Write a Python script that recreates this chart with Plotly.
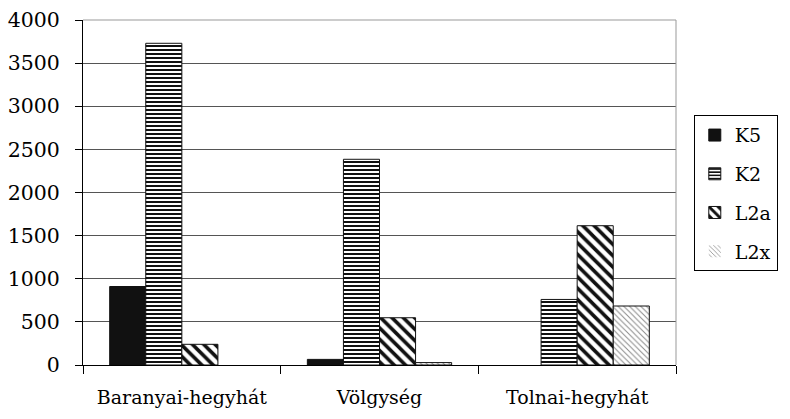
import plotly.graph_objects as go

# Regions and series values
regions = ["Baranyai-hegyhát", "Völgység", "Tolnai-hegyhát"]
series_names = ["K5", "K2", "L2a", "L2x"]
k5 = [910, 65, 0]
k2 = [3730, 2385, 760]
l2a = [240, 548, 1615]
l2x = [0, 28, 684]
y_ticks = [0, 500, 1000, 1500, 2000, 2500, 3000, 3500, 4000]

FONT = "DejaVu Serif"

styles = [
    dict(color="#111111", pattern=dict(shape="")),
    dict(color="white", pattern=dict(shape="-", size=4, solidity=0.5,
                                     fgcolor="#111111", bgcolor="white", fillmode="replace")),
    dict(color="white", pattern=dict(shape="\\", size=8, solidity=0.45,
                                     fgcolor="#111111", bgcolor="white", fillmode="replace")),
    dict(color="white", pattern=dict(shape="\\", size=4, solidity=0.25,
                                     fgcolor="#8a8a8a", bgcolor="white", fillmode="replace")),
]

fig = go.Figure()
for i, (name, vals) in enumerate(zip(series_names, [k5, k2, l2a, l2x])):
    st = styles[i]
    # empty (zero) bars get no outline
    widths = [1 if v > 0 else 0 for v in vals]
    fig.add_trace(go.Bar(
        x=regions, y=vals, name=name, legendgroup=name,
        marker=dict(color=st["color"], pattern=st["pattern"],
                    line=dict(color="#111111", width=widths)),
    ))

fig.update_layout(
    width=790, height=419,
    margin=dict(l=83, r=97, t=20, b=54),
    paper_bgcolor="white", plot_bgcolor="white",
    barmode="group", bargap=0.27, bargroupgap=0,
    font=dict(family=FONT, size=20, color="black"),
    showlegend=True,
    legend=dict(
        x=1.03, xanchor="left", y=0.724, yanchor="top",
        bordercolor="black", borderwidth=1, bgcolor="white",
        font=dict(family=FONT, size=19, color="black"),
        traceorder="grouped", tracegroupgap=11,
        itemwidth=30,
    ),
    xaxis=dict(
        type="category", showline=True, linecolor="black", linewidth=1,
        ticks="outside", tickson="boundaries", ticklen=8, tickcolor="black",
        showgrid=False, tickfont=dict(family=FONT, size=19, color="black"),
        ticklabelstandoff=15, automargin=False,
    ),
    yaxis=dict(
        range=[0, 4000], tickvals=y_ticks, showline=True, linecolor="black", linewidth=1,
        ticks="outside", ticklen=7, tickcolor="black", showgrid=True,
        gridcolor="#555555", gridwidth=1, zeroline=False,
        tickfont=dict(family=FONT, size=20.5, color="black"), ticklabelstandoff=11,
        automargin=False,
    ),
    shapes=[
        dict(type="line", xref="paper", yref="paper", x0=1, x1=1, y0=0, y1=1,
             line=dict(color="#999999", width=1)),
        dict(type="line", xref="paper", yref="paper", x0=0, x1=1, y0=1, y1=1,
             line=dict(color="#999999", width=1)),
    ],
)

fig.write_html("out.html")
